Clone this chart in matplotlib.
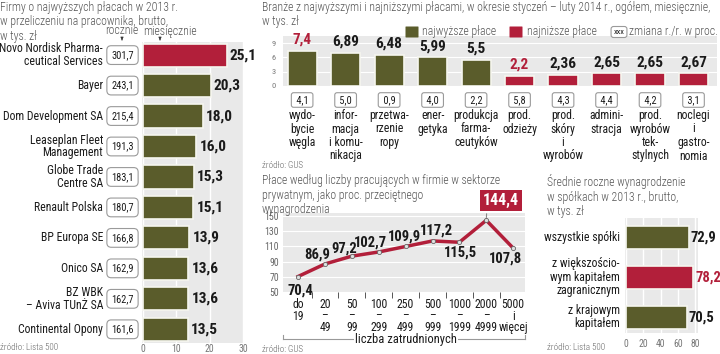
import matplotlib
matplotlib.use('Agg')
import matplotlib.pyplot as plt
import matplotlib.transforms as mtrans
from matplotlib.patches import FancyBboxPatch, FancyArrowPatch
import numpy as np

W, H = 720, 354
fig = plt.figure(figsize=(7.2, 3.54), dpi=100)
fig.patch.set_facecolor('white')

# colours / fonts
OLIVE = '#5a5c2b'
RED = '#b21f3a'
BG = '#e9e9e9'
TXT = '#555555'
DARK = '#1a1a1a'
NARROW = ['Roboto Condensed', 'Liberation Sans Narrow', 'DejaVu Sans']

# ---- data ----
firms = ['Novo Nordisk Pharma-\nceutical Services', 'Bayer', 'Dom Development SA',
         'Leaseplan Fleet\nManagement', 'Globe Trade\nCentre SA', 'Renault Polska',
         'BP Europa SE', 'Onico SA', 'BZ WBK\n– Aviva TUnŻ SA', 'Continental Opony']
firm_year = [301.7, 243.1, 215.4, 191.3, 183.1, 180.7, 166.8, 162.9, 162.7, 161.6]
firm_month = [25.1, 20.3, 18.0, 16.0, 15.3, 15.1, 13.9, 13.6, 13.6, 13.5]

sectors = ['wydo-\nbycie\nwęgla', 'infor-\nmacja\ni komu-\nnikacja', 'przetwa-\nrzenie\nropy',
           'ener-\ngetyka', 'produkcja\nfarma-\nceutyków', 'prod.\nodzieży',
           'prod.\nskóry\ni\nwyrobów', 'admini-\nstracja', 'prod.\nwyrobów\ntek-\nstylnych',
           'noclegi\ni\ngastro-\nnomia']
sector_pay = [7.4, 6.89, 6.48, 5.99, 5.5, 2.2, 2.36, 2.65, 2.65, 2.67]
sector_change = [4.1, 5.0, 0.9, 4.0, 2.2, 5.8, 4.3, 4.4, 4.2, 3.1]
sector_group = ['top'] * 5 + ['low'] * 5

size_labels = ['do\n19', '20\n–\n49', '50\n–\n99', '100\n–\n299', '250\n–\n499',
               '500\n–\n999', '1000\n–\n1999', '2000\n–\n4999', '5000\ni\nwięcej']
size_pay = [70.4, 86.9, 97.2, 102.7, 109.9, 117.2, 115.5, 144.4, 107.8]

owners = ['wszystkie spółki', 'z większościo-\nwym kapitałem\nzagranicznym', 'z krajowym\nkapitałem']
owner_pay = [72.9, 78.2, 70.5]


def f1(v):
    return f'{v:.1f}'.replace('.', ',')


def fg(v):
    return ('%g' % v).replace('.', ',')


def px_axes(x0, y0, x1, y1):
    return fig.add_axes([x0 / W, 1 - y1 / H, (x1 - x0) / W, (y1 - y0) / H])


def clean(ax):
    for s in ax.spines.values():
        s.set_visible(False)
    ax.set_facecolor(BG)
    ax.set_axisbelow(True)


# overlay in pixel units for titles / boxes
ov = fig.add_axes([0, 0, 1, 1], zorder=10)
ov.set_xlim(0, W)
ov.set_ylim(H, 0)
ov.axis('off')
ov.patch.set_alpha(0)

bar_edge = '#f6f6ef'
tkw = dict(family=NARROW)


def title(x, y, s):
    ov.text(x, y, s, va='top', ha='left', fontsize=8.5, color=TXT, family=NARROW,
            fontweight='light', linespacing=1.15)


def source(x, y, s):
    ov.text(x, y, s, ha='left', va='center', fontsize=6.5, color='#666', family=NARROW,
            fontweight='light')


# ================= LEFT: firms =================
title(0, 1, 'Firmy o najwyższych płacach w 2013 r.\nw przeliczeniu na pracownika, brutto,\nw tys. zł')
ov.text(122, 31, 'rocznie', ha='center', va='center', fontsize=8.5, color=TXT, family=NARROW,
        fontweight='light')
ov.text(170, 31, 'miesięcznie', ha='center', va='center', fontsize=8.5, color=TXT, family=NARROW,
        fontweight='light')
for xa in (122, 160):
    ov.add_patch(FancyArrowPatch((xa, 37), (xa, 43), arrowstyle='-|>', lw=0.6,
                                 color='#333', mutation_scale=4))

ax1 = px_axes(142, 42, 244, 343)
clean(ax1)
y1 = np.arange(len(firms))
c1 = [RED if v == max(firm_month) else OLIVE for v in firm_month]
ax1.barh(y1, firm_month, height=0.76, color=c1, edgecolor=bar_edge, linewidth=1.2, zorder=3)
ax1.set_xlim(-0.3, 30.3)
ax1.set_ylim(9.45, -0.43)
ax1.set_xticks([0, 10, 20, 30])
ax1.set_xticklabels(['0', '10', '20', '30'], **tkw)
ax1.set_yticks([])
ax1.tick_params(axis='x', length=0, labelsize=7, labelcolor='#777', pad=1)
ax1.xaxis.grid(True, color='white', lw=1)
for i, v in enumerate(firm_month):
    ax1.text(v + 0.9, i, f1(v), va='center', ha='left', fontsize=11,
             fontweight='bold', family=NARROW, color=DARK)

tr1 = mtrans.blended_transform_factory(ov.transData, ax1.transData)
for i, (name, yr) in enumerate(zip(firms, firm_year)):
    ov.text(103, i, name, transform=tr1, ha='right', va='center', fontsize=8.5,
            family=NARROW, color=DARK, linespacing=0.95)
    ov.text(122.5, i, f1(yr), transform=tr1, ha='center', va='center', fontsize=7.5,
            family=NARROW, color=DARK,
            bbox=dict(boxstyle='round,pad=0.42', fc='white', ec='#9a9a9a', lw=0.8))
source(0, 348, 'źródło: Lista 500')

# ================= TOP RIGHT: sectors =================
title(262, 1, 'Branże z najwyższymi i najniższymi płacami, w okresie styczeń – luty 2014 r., ogółem, miesięcznie,\nw tys. zł')
# legend
ov.add_patch(FancyBboxPatch((406, 27), 12, 10, boxstyle='round,pad=0.5', fc=OLIVE, ec='none'))
ov.text(422, 32, 'najwyższe płace', va='center', fontsize=8.5, color=TXT, family=NARROW,
        fontweight='light')
ov.add_patch(FancyBboxPatch((510, 27), 12, 10, boxstyle='round,pad=0.5', fc=RED, ec='none'))
ov.text(527, 32, 'najniższe płace', va='center', fontsize=8.5, color=TXT, family=NARROW,
        fontweight='light')
ov.text(619, 32, 'xxx', ha='center', va='center', fontsize=6, color=DARK, family=NARROW,
        bbox=dict(boxstyle='round,pad=0.3', fc='white', ec='#9a9a9a', lw=0.8))
ov.text(718, 32, 'zmiana r./r. w proc.', ha='right', va='center', fontsize=8.5, color=TXT,
        family=NARROW, fontweight='light')

ax2 = px_axes(283, 36, 717, 86)
clean(ax2)
x2 = np.arange(len(sectors))
c2 = [OLIVE if g == 'top' else RED for g in sector_group]
ax2.bar(x2, sector_pay, width=0.67, color=c2, edgecolor=bar_edge, linewidth=1.2, zorder=3)
ax2.set_xlim(-0.44, 9.54)
ax2.set_ylim(0, 10.5)
ax2.set_xticks([])
ax2.set_yticks([0, 3, 6, 9])
ax2.set_yticklabels(['0', '3', '6', '9'], **tkw)
ax2.tick_params(axis='y', length=0, labelsize=6, labelcolor='#777', pad=5)
ax2.yaxis.grid(True, color='white', lw=0.8)
for i, v in enumerate(sector_pay):
    col = RED if v in (max(sector_pay), min(sector_pay)) else DARK
    ax2.annotate(fg(v), (i, v), xytext=(0, 3), textcoords='offset points', ha='center',
                 va='bottom', fontsize=11, fontweight='bold', family=NARROW, color=col)

tr2 = mtrans.blended_transform_factory(ax2.transData, ov.transData)
for i, (lab, ch) in enumerate(zip(sectors, sector_change)):
    ov.text(i, 100, ' ' + f1(ch) + ' ', transform=tr2, ha='center', va='center', fontsize=7.5,
            family=NARROW, color=DARK,
            bbox=dict(boxstyle='round,pad=0.22', fc='white', ec='#9a9a9a', lw=0.8))
    ov.text(i, 109, lab, transform=tr2, ha='center', va='top', fontsize=8.5,
            family=NARROW, color=DARK, linespacing=1.05)
source(262, 166, 'źródło: GUS')

# ================= BOTTOM MIDDLE: line =================
title(262, 174, 'Płace według liczby pracujących w firmie w sektorze\nprywatnym, jako proc. przeciętnego\nwynagrodzenia')

ax3 = px_axes(283, 213, 525, 292)
clean(ax3)
x3 = np.arange(len(size_pay))
ax3.plot(x3, size_pay, color=RED, lw=2.5, zorder=3, solid_joinstyle='miter')
ax3.scatter(x3, size_pay, s=9, color='#e0e0e0', edgecolor='#666', linewidth=0.6, zorder=4)
ax3.set_xlim(-0.56, 8.44)
ax3.set_ylim(50, 154)
ax3.set_yticks([50, 70, 90, 110, 130, 150])
ax3.set_yticklabels(['50', '70', '90', '110', '130', '150'], **tkw)
ax3.tick_params(axis='y', length=0, labelsize=7, labelcolor='#666', pad=3)
ax3.yaxis.grid(True, color='white', lw=0.8)
ax3.set_xticks([])
ax3.set_xticks(x3[:-1] + 0.5, minor=True)
ax3.tick_params(axis='x', which='minor', length=4, width=0.7, color='#555')

tr3 = mtrans.blended_transform_factory(ax3.transData, ov.transData)
for i, lab in enumerate(size_labels):
    ov.text(i, 298, lab, transform=tr3, ha='center', va='top', fontsize=8.5,
            family=NARROW, color=DARK, linespacing=0.85)

offs = [(2, -14), (-8, 9), (-8, 8), (-8, 9), (-1, 10), (4, 10), (1, -10), (15, 20), (-8, -10)]
for i, (v, (dx, dy)) in enumerate(zip(size_pay, offs)):
    if v == max(size_pay):
        ax3.annotate(f1(v), (i, v), xytext=(dx * 0.72, dy * 0.72), textcoords='offset points',
                     ha='center', va='center', fontsize=11.5, fontweight='bold', family=NARROW,
                     color='white', zorder=6,
                     bbox=dict(boxstyle='square,pad=0.2', fc=RED, ec='none'),
                     arrowprops=dict(arrowstyle='-', color='#888', lw=0.8, relpos=(0.1, 0)))
    else:
        ax3.annotate(f1(v), (i, v), xytext=(dx * 0.72, dy * 0.72), textcoords='offset points',
                     ha='center', va='center', fontsize=10.5, fontweight='bold', family=NARROW,
                     color=DARK, zorder=6)

ov.plot([283, 525], [339, 339], color='#999', lw=0.8)
ov.plot([283, 283], [335, 339], color='#999', lw=0.8)
ov.plot([525, 525], [335, 339], color='#999', lw=0.8)
ov.text(406, 339, 'liczba zatrudnionych', ha='center', va='center', fontsize=9, family=NARROW,
        color=DARK, bbox=dict(boxstyle='square,pad=0.1', fc='white', ec='none'))
source(262, 350, 'źródło: GUS')

# ================= BOTTOM RIGHT: ownership =================
title(547, 174, 'Średnie roczne wynagrodzenie\nw spółkach w 2013 r., brutto,\nw tys. zł')

ax4 = px_axes(625, 218, 698, 333)
clean(ax4)
y4 = np.arange(len(owners))
c4 = [RED if v == max(owner_pay) else OLIVE for v in owner_pay]
ax4.barh(y4, owner_pay, height=0.58, color=c4, edgecolor=bar_edge, linewidth=1.2, zorder=3)
ax4.set_xlim(-1.2, 83.5)
ax4.set_ylim(2.4, -0.5)
ax4.set_xticks([0, 20, 40, 60, 80])
ax4.set_xticklabels(['0', '20', '40', '60', '80'], **tkw)
ax4.set_yticks([])
ax4.tick_params(axis='x', length=0, labelsize=7, labelcolor='#777', pad=4)
ax4.xaxis.grid(True, color='white', lw=1)
for i, v in enumerate(owner_pay):
    ax4.text(v + 2.2, i, f1(v), va='center', ha='left', fontsize=10.5, fontweight='bold',
             family=NARROW, color=RED if v == max(owner_pay) else DARK)
tr4 = mtrans.blended_transform_factory(ov.transData, ax4.transData)
for i, name in enumerate(owners):
    ov.text(620, i, name, transform=tr4, ha='right', va='center', fontsize=8.5,
            family=NARROW, color=DARK, linespacing=1.05)
source(547, 347, 'źródło: Lista 500')

fig.savefig('out.png', dpi=100, facecolor='white')
